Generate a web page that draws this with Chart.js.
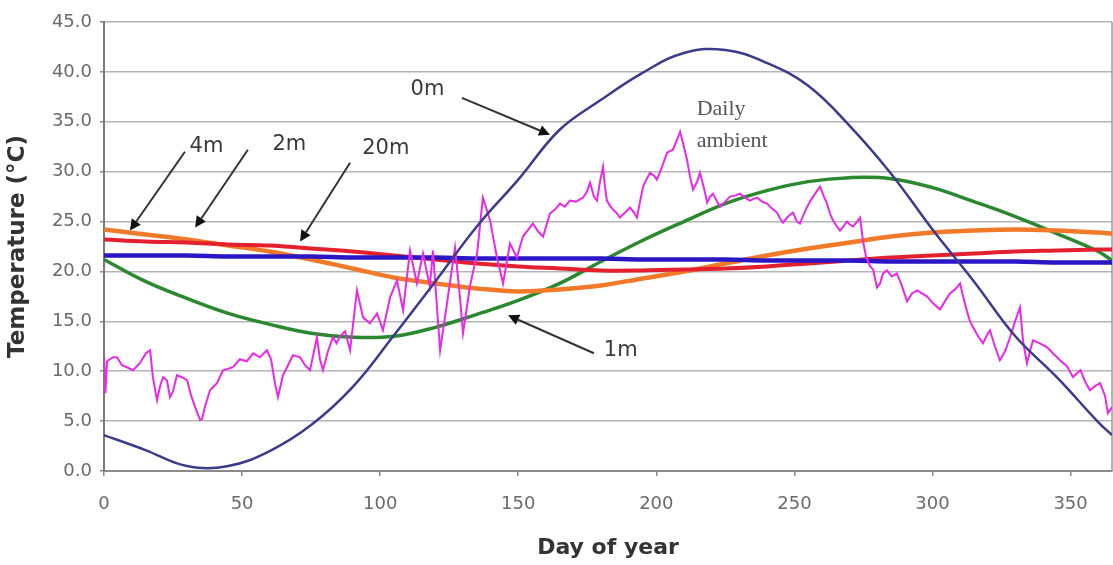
<!DOCTYPE html>
<html>
<head>
<meta charset="utf-8">
<script src="https://cdn.jsdelivr.net/npm/chart.js@4/dist/chart.umd.min.js"></script>
<style>
html,body{margin:0;padding:0;background:#ffffff;}
canvas{display:block;}
</style>
</head>
<body>
<canvas id="c" width="1113" height="565"></canvas>
<script>
// ---------- DATA ----------
const days = [0,15,30,45,60,75,90,105,120,135,150,165,180,195,210,225,240,255,270,285,300,315,330,345,360,365];
const temp0m  = [3.6,2.1,0.5,0.5,2.0,4.6,8.4,13.6,19.0,24.5,29.2,34.2,37.2,39.9,41.9,42.2,40.9,38.6,34.6,29.8,24.2,19.0,13.5,9.4,4.9,3.6];
const temp1m  = [21.2,19.0,17.3,15.8,14.7,13.8,13.4,13.5,14.4,15.7,17.1,18.8,21.0,23.1,25.0,26.8,28.1,29.0,29.4,29.3,28.4,27.0,25.5,23.8,22.0,21.1];
const temp2m  = [24.2,23.7,23.2,22.6,22.0,21.2,20.3,19.4,18.8,18.3,18.0,18.2,18.6,19.3,20.0,20.8,21.6,22.3,22.9,23.5,23.9,24.1,24.2,24.1,23.9,23.8];
const temp4m  = [23.2,23.0,22.9,22.7,22.6,22.3,22.0,21.6,21.2,20.8,20.5,20.3,20.1,20.1,20.2,20.3,20.5,20.8,21.1,21.4,21.6,21.8,22.0,22.1,22.2,22.2];
const temp20m = [21.6,21.6,21.6,21.5,21.5,21.5,21.4,21.4,21.4,21.3,21.3,21.3,21.3,21.2,21.2,21.2,21.1,21.1,21.1,21.0,21.0,21.0,21.0,20.9,20.9,20.9];

const ambientDays = [
  0,0.5,1.1,3.3,4.7,6.5,8.3,10.5,13.0,15.2,
  16.7,17.7,19.2,20.3,21.4,22.8,23.9,25.0,26.4,28.2,
  30.1,31.5,33.0,34.8,35.5,36.6,38.4,40.9,43.1,46.7,
  49.2,51.7,54.0,56.5,59.0,60.5,61.9,63.0,64.8,66.3,
  68.4,71.0,72.8,74.6,77.1,78.2,79.3,81.1,82.9,84.2,
  85.5,87.3,89.1,91.6,93.8,96.3,98.9,101.0,103.6,106.1,
  108.3,110.8,113.3,115.5,118.0,119.1,121.7,124.2,127.1,128.9,
  130.0,132.5,135.1,137.2,139.8,142.3,144.5,147.0,149.5,151.7,
  155.3,
  157.2,159.0,160.4,161.5,163.3,165.1,166.9,168.7,170.9,173.5,
  174.9,176.0,177.4,178.5,179.6,180.7,181.4,182.1,183.2,184.3,
  185.8,186.8,188.7,190.5,191.9,193.0,194.1,195.2,196.6,197.7,
  199.2,200.2,202.1,203.9,206.0,207.5,208.6,210.0,211.1,212.2,
  213.3,214.8,215.8,217.3,218.4,219.5,220.5,222.0,223.1,224.9,
  226.7,228.5,230.3,232.1,233.9,235.4,236.5,238.3,240.1,241.9,
  243.7,244.8,245.9,247.7,249.5,250.9,252.0,253.8,255.6,257.5,
  259.3,260.7,261.8,262.9,264.0,265.4,266.5,268.0,269.0,270.1,
  271.2,272.7,273.8,274.8,275.9,277.4,278.5,279.9,281.0,282.1,
  283.5,285.3,287.1,289.0,290.8,292.6,294.4,296.2,298.0,300.2,
  302.7,304.5,306.3,308.2,310.0,311.1,312.5,313.6,314.7,316.5,
  318.3,319.7,320.8,322.6,324.4,326.3,328.1,329.9,331.7,332.8,
  334.2,335.3,336.4,338.9,341.5,343.6,346.2,348.7,350.9,352.3,
  353.6,355.2,357.0,358.8,360.7,362.5,363.5,365
];
const ambientTemps = [
  11.6,7.8,11.0,11.4,11.4,10.6,10.4,10.1,10.8,11.8,
  12.1,9.4,7.1,8.5,9.4,9.1,7.4,8.0,9.6,9.4,
  9.1,7.6,6.4,5.1,5.2,6.5,8.1,8.8,10.1,10.4,
  11.2,11.0,11.8,11.4,12.1,11.2,8.8,7.4,9.6,10.4,
  11.6,11.4,10.6,10.1,13.4,11.2,10.1,12.0,13.4,12.8,
  13.5,14.0,12.1,18.1,15.4,14.8,15.8,14.1,17.4,19.1,
  16.1,22.1,18.8,21.8,18.5,22.1,12.1,16.8,22.4,17.4,
  13.8,18.5,21.8,27.4,25.1,21.4,18.8,22.8,21.4,23.5,
  24.8,
  24.0,23.5,24.8,25.8,26.2,26.8,26.5,27.1,27.0,27.4,
  28.0,28.9,27.5,27.1,29.0,30.5,28.5,27.1,26.6,26.2,
  25.8,25.4,25.9,26.4,25.9,25.4,27.0,28.5,29.3,29.9,
  29.6,29.2,30.5,31.9,32.2,33.2,34.0,32.5,31.2,29.5,
  28.2,29.0,29.9,28.3,26.9,27.5,27.8,27.0,26.5,27.0,
  27.5,27.6,27.8,27.4,27.1,27.3,27.4,27.0,26.8,26.3,
  25.9,25.3,24.9,25.5,25.9,25.0,24.8,26.0,27.0,27.8,
  28.5,27.5,26.8,25.8,25.1,24.5,24.1,24.6,25.0,24.7,
  24.5,25.0,25.4,23.1,21.5,20.5,20.2,18.4,18.8,19.8,
  20.1,19.5,19.8,18.5,17.0,17.8,18.1,17.8,17.5,16.8,
  16.2,17.0,17.8,18.2,18.8,17.5,16.0,15.0,14.4,13.5,
  12.8,13.6,14.1,12.5,11.1,12.0,13.4,15.0,16.4,13.0,
  10.8,12.0,13.1,12.8,12.4,11.8,11.1,10.5,9.4,9.8,
  10.1,9.0,8.1,8.5,8.8,7.5,5.8,6.4
];

const xTickValues = [0,50,100,150,200,250,300,350];
const yTickValues = [0,5,10,15,20,25,30,35,40,45];

// annotation text and anchors (in data units)
const noteLabels = ['4m','2m','20m','0m','1m'];
const noteAnchor = {
  labelDay:  [31, 61, 93.5, 111, 181],
  labelTemp: [32.5, 32.7, 32.3, 38.2, 12.1],
  fromDay:   [29.3, 52.1, 89.1, 129.6, 177.4],
  fromTemp:  [32.0, 32.2, 30.9, 37.4, 11.8],
  toDay:     [9.4, 33.0, 71.0, 161.5, 146.3],
  toTemp:    [24.1, 24.4, 23.0, 33.7, 15.6]
};
const ambientNote = ['Daily','ambient'];
const ambientNoteAnchor = { day: 214.6, temps: [36.3, 33.1] };

// ---------- HELPERS ----------
function pts(xs, ys){ return xs.map((x,i)=>({x:x, y:ys[i]})); }

function drawArrow(ctx, x1, y1, x2, y2){
  const a = Math.atan2(y2-y1, x2-x1), L = 11, W = 5.5;
  const bx = x2 - L*Math.cos(a), by = y2 - L*Math.sin(a);
  ctx.beginPath(); ctx.moveTo(x1,y1); ctx.lineTo(bx,by); ctx.stroke();
  ctx.beginPath();
  ctx.moveTo(x2,y2);
  ctx.lineTo(bx + W*Math.sin(a), by - W*Math.cos(a));
  ctx.lineTo(bx - W*Math.sin(a), by + W*Math.cos(a));
  ctx.closePath(); ctx.fill();
}

const framePlugin = {
  id: 'frame',
  beforeDatasetsDraw(chart){
    const {ctx, chartArea:a} = chart;
    ctx.save();
    ctx.strokeStyle = '#9a9a9a';
    ctx.lineWidth = 1.5;
    ctx.beginPath(); ctx.moveTo(a.right, a.top); ctx.lineTo(a.right, a.bottom); ctx.stroke();
    ctx.restore();
  }
};

const notesPlugin = {
  id: 'notes',
  afterDatasetsDraw(chart){
    const {ctx} = chart;
    const xs = chart.scales.x, ys = chart.scales.y;
    ctx.save();
    ctx.strokeStyle = '#333333';
    ctx.fillStyle = '#111111';
    ctx.lineWidth = 2;
    for (let i = 0; i < noteLabels.length; i++){
      drawArrow(ctx,
        xs.getPixelForValue(noteAnchor.fromDay[i]), ys.getPixelForValue(noteAnchor.fromTemp[i]),
        xs.getPixelForValue(noteAnchor.toDay[i]),   ys.getPixelForValue(noteAnchor.toTemp[i]));
    }
    ctx.fillStyle = '#3a3a3a';
    ctx.font = '21px "DejaVu Sans"';
    ctx.textAlign = 'left';
    ctx.textBaseline = 'middle';
    for (let i = 0; i < noteLabels.length; i++){
      ctx.fillText(noteLabels[i], xs.getPixelForValue(noteAnchor.labelDay[i]), ys.getPixelForValue(noteAnchor.labelTemp[i]));
    }
    ctx.fillStyle = '#555555';
    ctx.font = '22px "Liberation Serif"';
    ambientNote.forEach((t,i)=>{
      ctx.fillText(t, xs.getPixelForValue(ambientNoteAnchor.day), ys.getPixelForValue(ambientNoteAnchor.temps[i]));
    });
    ctx.restore();
  }
};

Chart.defaults.font.family = '"DejaVu Sans", sans-serif';

new Chart(document.getElementById('c'), {
  type: 'line',
  data: {
    datasets: [
      { label:'0m', data: pts(days, temp0m), borderColor:'#3c3a8c', borderWidth:2.5, tension:0.4, pointRadius:0, order:0 },
      { label:'Daily ambient', data: pts(ambientDays, ambientTemps), borderColor:'#e82ae8', borderWidth:2, tension:0, pointRadius:0, order:1 },
      { label:'20m', data: pts(days, temp20m), borderColor:'#2a16c4', borderWidth:4.5, tension:0.4, pointRadius:0, order:2 },
      { label:'4m', data: pts(days, temp4m), borderColor:'#e4202e', borderWidth:4, tension:0.4, pointRadius:0, order:3 },
      { label:'2m', data: pts(days, temp2m), borderColor:'#f07a28', borderWidth:4.5, tension:0.4, pointRadius:0, order:4 },
      { label:'1m', data: pts(days, temp1m), borderColor:'#2a882e', borderWidth:3.5, tension:0.4, pointRadius:0, order:5 }
    ]
  },
  options: {
    responsive: false,
    animation: false,
    devicePixelRatio: 1,
    layout: { padding: { top: 22, right: 1, bottom: 0, left: 0 } },
    plugins: { legend: { display:false }, tooltip: { enabled:false } },
    scales: {
      x: {
        type: 'linear', min: 0, max: 365,
        afterFit(s){ s.height = 94; },
        afterBuildTicks(s){ s.ticks = xTickValues.map(v=>({value:v})); },
        ticks: { padding: 18, color:'#6a6a6a', font:{ size:18 }, maxRotation:0, autoSkip:false },
        grid: { drawOnChartArea:false, drawTicks:true, tickLength:5, tickColor:'#8a8a8a', lineWidth:1.5 },
        border: { color:'#8a8a8a', width:2 },
        title: { display:true, text:'Day of year', color:'#333333', font:{ size:22, weight:'bold' }, padding:{ top:4, bottom:4 } }
      },
      y: {
        type: 'linear', min: 0, max: 45,
        afterFit(s){ s.width = 104; },
        afterBuildTicks(s){ s.ticks = yTickValues.map(v=>({value:v})); },
        ticks: { padding: 8, color:'#6a6a6a', font:{ size:18 }, callback: v => Number(v).toFixed(1) },
        grid: { color:'#b4b4b4', lineWidth:1.5, drawTicks:true, tickLength:4, tickColor:'#8a8a8a' },
        border: { color:'#7a7a7a', width:2 },
        title: { display:true, text:'Temperature (°C)', color:'#333333', font:{ size:23, weight:'bold' }, padding:{ top:4, bottom:4 } }
      }
    }
  },
  plugins: [framePlugin, notesPlugin]
});
</script>
</body>
</html>
